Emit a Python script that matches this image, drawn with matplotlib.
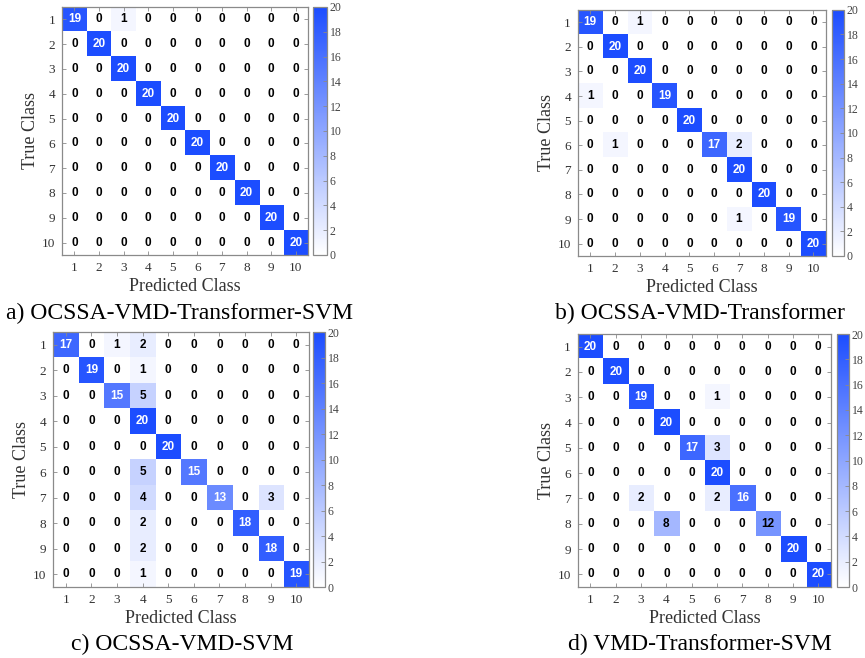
import numpy as np
import matplotlib
matplotlib.use("Agg")
import matplotlib.pyplot as plt
from matplotlib.colors import LinearSegmentedColormap

classes = [str(i) for i in range(1, 11)]

cm_a = [
    [19, 0, 1, 0, 0, 0, 0, 0, 0, 0],
    [0, 20, 0, 0, 0, 0, 0, 0, 0, 0],
    [0, 0, 20, 0, 0, 0, 0, 0, 0, 0],
    [0, 0, 0, 20, 0, 0, 0, 0, 0, 0],
    [0, 0, 0, 0, 20, 0, 0, 0, 0, 0],
    [0, 0, 0, 0, 0, 20, 0, 0, 0, 0],
    [0, 0, 0, 0, 0, 0, 20, 0, 0, 0],
    [0, 0, 0, 0, 0, 0, 0, 20, 0, 0],
    [0, 0, 0, 0, 0, 0, 0, 0, 20, 0],
    [0, 0, 0, 0, 0, 0, 0, 0, 0, 20],
]

cm_b = [
    [19, 0, 1, 0, 0, 0, 0, 0, 0, 0],
    [0, 20, 0, 0, 0, 0, 0, 0, 0, 0],
    [0, 0, 20, 0, 0, 0, 0, 0, 0, 0],
    [1, 0, 0, 19, 0, 0, 0, 0, 0, 0],
    [0, 0, 0, 0, 20, 0, 0, 0, 0, 0],
    [0, 1, 0, 0, 0, 17, 2, 0, 0, 0],
    [0, 0, 0, 0, 0, 0, 20, 0, 0, 0],
    [0, 0, 0, 0, 0, 0, 0, 20, 0, 0],
    [0, 0, 0, 0, 0, 0, 1, 0, 19, 0],
    [0, 0, 0, 0, 0, 0, 0, 0, 0, 20],
]

cm_c = [
    [17, 0, 1, 2, 0, 0, 0, 0, 0, 0],
    [0, 19, 0, 1, 0, 0, 0, 0, 0, 0],
    [0, 0, 15, 5, 0, 0, 0, 0, 0, 0],
    [0, 0, 0, 20, 0, 0, 0, 0, 0, 0],
    [0, 0, 0, 0, 20, 0, 0, 0, 0, 0],
    [0, 0, 0, 5, 0, 15, 0, 0, 0, 0],
    [0, 0, 0, 4, 0, 0, 13, 0, 3, 0],
    [0, 0, 0, 2, 0, 0, 0, 18, 0, 0],
    [0, 0, 0, 2, 0, 0, 0, 0, 18, 0],
    [0, 0, 0, 1, 0, 0, 0, 0, 0, 19],
]

cm_d = [
    [20, 0, 0, 0, 0, 0, 0, 0, 0, 0],
    [0, 20, 0, 0, 0, 0, 0, 0, 0, 0],
    [0, 0, 19, 0, 0, 1, 0, 0, 0, 0],
    [0, 0, 0, 20, 0, 0, 0, 0, 0, 0],
    [0, 0, 0, 0, 17, 3, 0, 0, 0, 0],
    [0, 0, 0, 0, 0, 20, 0, 0, 0, 0],
    [0, 0, 2, 0, 0, 2, 16, 0, 0, 0],
    [0, 0, 0, 8, 0, 0, 0, 12, 0, 0],
    [0, 0, 0, 0, 0, 0, 0, 0, 20, 0],
    [0, 0, 0, 0, 0, 0, 0, 0, 0, 20],
]

captions = [
    "a) OCSSA-VMD-Transformer-SVM",
    "b) OCSSA-VMD-Transformer",
    "c) OCSSA-VMD-SVM",
    "d) VMD-Transformer-SVM",
]

SERIF = ["Liberation Serif", "DejaVu Serif"]
SANS = ["Liberation Sans", "DejaVu Sans"]
EDGE = "#8a8a8a"

cmap = LinearSegmentedColormap.from_list("wb", ["#ffffff", "#1c4dff"])

# (axes rect, colorbar rect, caption centre) in figure fractions
layout = [
    ([0.0717, 0.6125, 0.2844, 0.377], [0.3618, 0.6125, 0.0162, 0.377], (0.207, 0.524)),
    ([0.668, 0.611, 0.2867, 0.374], [0.9618, 0.611, 0.0139, 0.374], (0.809, 0.524)),
    ([0.0613, 0.1079, 0.296, 0.3875], [0.3618, 0.1079, 0.0139, 0.3875], (0.211, 0.021)),
    ([0.668, 0.1079, 0.2925, 0.3845], [0.9676, 0.1079, 0.0139, 0.3845], (0.809, 0.021)),
]


def draw_confusion(fig, cm, rect, cbar_rect, caption, cap_xy):
    cm = np.array(cm)
    ax = fig.add_axes(rect)
    im = ax.imshow(cm, cmap=cmap, vmin=0, vmax=20, aspect="auto")
    n = len(classes)
    for i in range(n):
        for j in range(n):
            v = cm[i, j]
            ax.text(j, i, str(v), ha="center", va="center",
                    color="white" if v >= 13 else "black",
                    fontsize=8.5, fontweight="bold", family=SANS)
    ax.set_xticks(range(n))
    ax.set_yticks(range(n))
    ax.set_xticklabels(classes, family=SERIF, fontsize=9.5, color="#333333")
    ax.set_yticklabels(classes, family=SERIF, fontsize=9.5, color="#333333")
    ax.tick_params(direction="in", length=3, width=0.6, color=EDGE,
                   top=True, right=True, pad=5)
    for s in ax.spines.values():
        s.set_color(EDGE)
        s.set_linewidth(0.9)
    ax.set_xlabel("Predicted Class", family=SERIF, fontsize=13, color="#333333", labelpad=3)
    ax.set_ylabel("True Class", family=SERIF, fontsize=13, color="#333333", labelpad=2)

    cax = fig.add_axes(cbar_rect)
    cb = fig.colorbar(im, cax=cax, ticks=range(0, 21, 2))
    cb.outline.set_edgecolor(EDGE)
    cb.outline.set_linewidth(0.9)
    cax.tick_params(direction="in", length=3, width=0.6, color=EDGE,
                    labelsize=8.5, labelcolor="#444444", pad=2)
    for lbl in cax.get_yticklabels():
        lbl.set_family(SERIF)

    fig.text(cap_xy[0], cap_xy[1], caption, ha="center", va="center",
             family=SERIF, fontsize=17, color="black")


def main() -> None:
    fig = plt.figure(figsize=(8.65, 6.58), dpi=100)
    for cm, (rect, cbar_rect, cap_xy), caption in zip([cm_a, cm_b, cm_c, cm_d], layout, captions):
        draw_confusion(fig, cm, rect, cbar_rect, caption, cap_xy)
    fig.savefig("out.png", dpi=100)
    plt.close(fig)


if __name__ == "__main__":
    main()
